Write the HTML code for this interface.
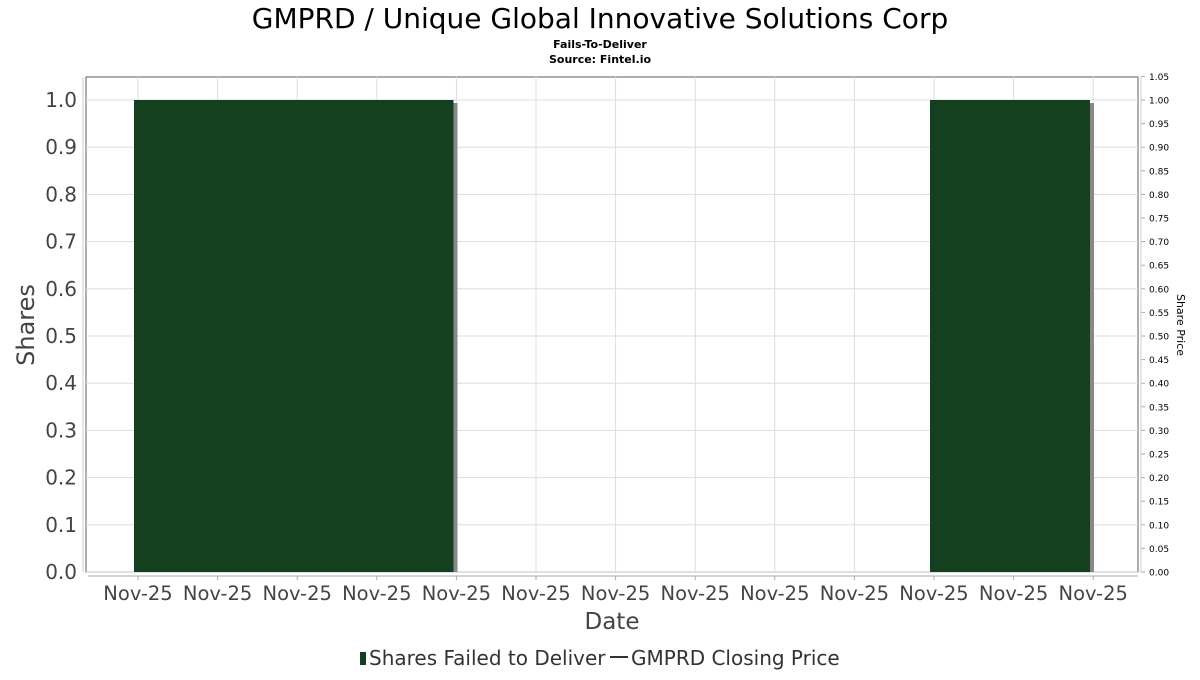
<!DOCTYPE html>
<html><head><meta charset="utf-8"><style>
body{margin:0;background:#fff;}
text{font-family:"DejaVu Sans","Liberation Sans",sans-serif;}
</style></head><body>
<svg id="c" width="1200" height="675" xmlns="http://www.w3.org/2000/svg">
<text x="600" y="28" text-anchor="middle" font-size="28" fill="#000">GMPRD / Unique Global Innovative Solutions Corp</text>
<text x="600" y="48" text-anchor="middle" font-size="11" font-weight="bold">Fails-To-Deliver</text>
<text x="600" y="63" text-anchor="middle" font-size="11" font-weight="bold">Source: Fintel.io</text>
<g id="grid"></g><g id="bars" shape-rendering="crispEdges"></g><g id="axes"></g>
<text x="612" y="629" text-anchor="middle" font-size="23" fill="#444">Date</text>
<text transform="translate(34,325) rotate(-90)" text-anchor="middle" font-size="24" fill="#444">Shares</text>
<text transform="translate(1177,325) rotate(90)" text-anchor="middle" font-size="11" fill="#000">Share Price</text>
<g>
<rect x="360" y="652" width="6" height="13" fill="#154020"/>
<text x="369" y="665" font-size="20" fill="#333">Shares Failed to Deliver</text>
<line x1="610" y1="657" x2="628" y2="657" stroke="#333" stroke-width="2"/>
<text x="631" y="665" font-size="20" fill="#333">GMPRD Closing Price</text>
</g>
</svg>
<script>
const categories=["Nov-25","Nov-25","Nov-25","Nov-25","Nov-25","Nov-25","Nov-25","Nov-25","Nov-25","Nov-25","Nov-25","Nov-25","Nov-25"];
const shares=[1,1,1,1,0,0,0,0,0,0,1,1];
const leftTicks=[0,0.1,0.2,0.3,0.4,0.5,0.6,0.7,0.8,0.9,1.0];
const rightTicks=[0,0.05,0.1,0.15,0.2,0.25,0.3,0.35,0.4,0.45,0.5,0.55,0.6,0.65,0.7,0.75,0.8,0.85,0.9,0.95,1.0,1.05];
const NS="http://www.w3.org/2000/svg";
const L=86,R=1138,T=77,B=572;
const x=i=>138+i*79.6;
const y=v=>B-v*472;
function mk(p,t,a){const e=document.createElementNS(NS,t);for(const k in a)e.setAttribute(k,a[k]);document.getElementById(p).appendChild(e);return e;}
mk('grid','rect',{x:L,y:T,width:R-L,height:B-T,fill:'#fff',stroke:'#777','stroke-width':1.2});
categories.forEach((c,i)=>{const l=mk('grid','line',{x1:x(i),x2:x(i),y1:T,y2:B,stroke:'#ddd'});


const tk=mk('axes','line',{x1:x(i),x2:x(i),y1:576,y2:580,stroke:'#aaa'});


const t=mk('axes','text',{x:x(i),y:600,'text-anchor':'middle','font-size':19.5,fill:'#444'});t.textContent=c;

});
leftTicks.forEach(v=>{const l=mk('grid','line',{x1:L,x2:R,y1:y(v),y2:y(v),stroke:'#ddd'});


const t=mk('axes','text',{x:77,y:y(v)+7,'text-anchor':'end','font-size':20,fill:'#444'});t.textContent=v.toFixed(1);

});
rightTicks.forEach(v=>{const t=mk('axes','text',{x:1149,y:y(v)+3.5,'font-size':9,fill:'#000'});t.textContent=v.toFixed(2);


mk('axes','line',{x1:1141,x2:1145,y1:y(v),y2:y(v),stroke:'#aaa'});});
mk('axes','line',{x1:88,x2:1138,y1:576,y2:576,stroke:'#aaa'});
mk('axes','line',{x1:83,x2:83,y1:77,y2:572,stroke:'#ccc'});
mk('axes','line',{x1:1141,x2:1141,y1:77,y2:572,stroke:'#ccc'});
shares.forEach((v,i)=>{if(!v)return;const s=mk('bars','rect',{x:x(i)+1,y:y(v)+3,width:79.6,height:B-y(v)-3,fill:'#888'});

});
shares.forEach((v,i)=>{if(!v)return;const b=mk('bars','rect',{x:x(i)-4,y:y(v),width:80.6,height:B-y(v),fill:'#154020'});

});
</script>
</body></html>
